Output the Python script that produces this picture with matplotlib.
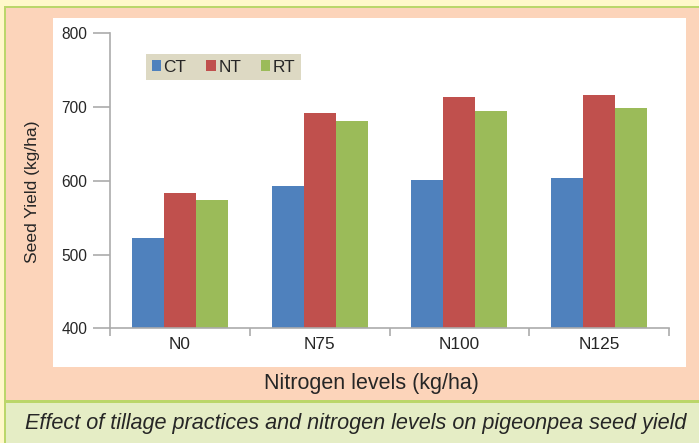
import matplotlib
matplotlib.use("Agg")
import matplotlib.pyplot as plt
from matplotlib.patches import Rectangle
import numpy as np

plt.rcParams['font.family'] = ['Liberation Sans', 'DejaVu Sans']

categories = ["N0", "N75", "N100", "N125"]
series_names = ["CT", "NT", "RT"]
ct_values = [522, 593, 601, 604]
nt_values = [583, 692, 714, 716]
rt_values = [574, 681, 695, 699]
series_values = [ct_values, nt_values, rt_values]
series_colors = ["#4F81BD", "#C0504D", "#9BBB59"]
y_ticks = [400, 500, 600, 700, 800]
y_label = "Seed Yield (kg/ha)"
x_label = "Nitrogen levels (kg/ha)"
caption = "Effect of tillage practices and nitrogen levels on pigeonpea seed yield"

W, H = 699, 443
fig = plt.figure(figsize=(W / 100, H / 100), dpi=100, facecolor="#FFF8CA")


def prect(x, y, w, h, color, z=0):
    fig.add_artist(Rectangle((x / W, 1 - (y + h) / H), w / W, h / H,
                             transform=fig.transFigure, facecolor=color,
                             edgecolor="none", zorder=z))


# background panels
prect(4, 6, W - 4, H - 6, "#BBD66A", z=-5)        # green border
prect(6, 8, W - 6, 392, "#FCD4BA", z=-4)          # salmon panel
prect(6, 403, W - 6, H - 403, "#E5EDC5", z=-4)    # caption panel
prect(53, 18, 633, 349, "#FFFFFF", z=-3)          # white plot area

ax_l, ax_r, ax_t, ax_b = 110, 669, 33.3, 328.3
ax = fig.add_axes([ax_l / W, 1 - ax_b / H, (ax_r - ax_l) / W, (ax_b - ax_t) / H])
ax.set_facecolor("none")

x = np.arange(len(categories)) + 0.5
bw = 0.229
for i, (name, vals, col) in enumerate(zip(series_names, series_values, series_colors)):
    ax.bar(x + (i - 1) * bw, vals, width=bw, color=col, label=name, zorder=2)

ax.set_xlim(0, len(categories))
ax.set_ylim(400, 800)
ax.set_yticks(y_ticks)
ax.set_yticklabels([str(v) for v in y_ticks])
ax.set_xticks(np.arange(len(categories) + 1))
ax.set_xticklabels([])
ax.set_xticks(x, minor=True)
ax.set_xticklabels(categories, minor=True)

spine_col = "#ABABAB"
for s in ["top", "right"]:
    ax.spines[s].set_visible(False)
for s in ["left", "bottom"]:
    ax.spines[s].set_color(spine_col)
    ax.spines[s].set_linewidth(1.2)

ax.tick_params(axis="y", which="major", direction="out", length=12, width=1.2,
               color=spine_col, pad=4.5, labelsize=11.2, labelcolor="#262626")
ax.tick_params(axis="x", which="major", direction="out", length=6, width=1.2,
               color=spine_col)
ax.tick_params(axis="x", which="minor", length=0, pad=6, labelsize=12.4,
               labelcolor="#262626")

leg = ax.legend(loc="upper left", bbox_to_anchor=(146 / W, 1 - 54 / H),
                bbox_transform=fig.transFigure, ncol=3, fontsize=12.4,
                frameon=True, fancybox=False, framealpha=1, borderaxespad=0,
                handlelength=0.55, handleheight=0.55, handletextpad=0.15,
                columnspacing=1.15, borderpad=0.32)
leg.get_frame().set_facecolor("#DDD9C3")
leg.get_frame().set_edgecolor("none")
for t in leg.get_texts():
    t.set_color("#262626")

fig.text(33 / W, 1 - 191.5 / H, y_label, rotation=90, ha="center", va="center",
         fontsize=12.6, color="#262626")
fig.text(371 / W, 1 - 384 / H, x_label, ha="center", va="center",
         fontsize=15.5, color="#262626")
fig.text(356 / W, 1 - 423 / H, caption, ha="center", va="center",
         fontsize=15.6, style="italic", color="#262626")

fig.savefig("out.png", dpi=100, facecolor=fig.get_facecolor())
